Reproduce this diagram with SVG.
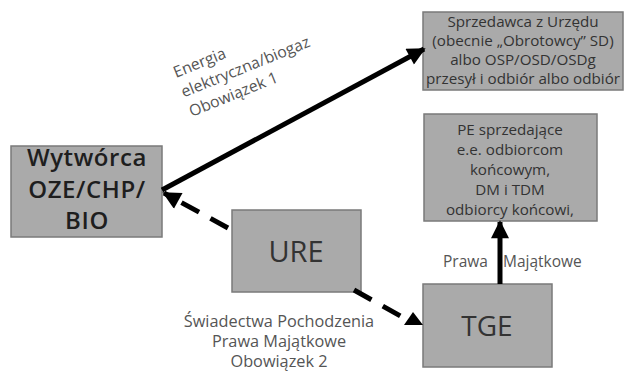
<svg xmlns="http://www.w3.org/2000/svg" width="624" height="372" viewBox="0 0 624 372">
<style>
.box{fill:#aaaaaa;stroke:#7a7a7a;stroke-width:1.5}
.t{font-family:"Open Sans","Noto Sans",sans-serif;fill:#333;text-anchor:middle}
.lbl{font-family:"Open Sans","Noto Sans",sans-serif;fill:#555}
.c{stroke:#000;stroke-width:5;fill:none}
.d{stroke-dasharray:20 13}
</style>
<defs>
<marker id="ah" viewBox="0 0 10 10" refX="9" refY="5" markerWidth="4.4" markerHeight="3.6" orient="auto" markerUnits="strokeWidth">
<path d="M0,0 L10,5 L0,10 Z" fill="#000"/>
</marker>
</defs>
<rect width="624" height="372" fill="#fff"/>
<g id="sprzedawca">
<rect class="box" x="423" y="12" width="200" height="78"/>
<text class="t" font-size="15.2"><tspan x="523" y="27">Sprzedawca z Urzędu</tspan><tspan x="523" y="46">(obecnie „Obrotowcy” SD)</tspan><tspan x="523" y="65">albo OSP/OSD/OSDg</tspan><tspan x="523" y="84">przesył i odbiór albo odbiór</tspan></text>
</g>
<g id="pe">
<rect class="box" x="424" y="114" width="173" height="107"/>
<text class="t" font-size="15.2"><tspan x="510" y="135">PE sprzedające</tspan><tspan x="510" y="155">e.e. odbiorcom</tspan><tspan x="510" y="175">końcowym,</tspan><tspan x="510" y="195">DM i TDM</tspan><tspan x="510" y="215">odbiorcy końcowi,</tspan></text>
</g>
<g id="wytworca">
<rect class="box" x="11" y="146" width="151" height="91"/>
<text class="t" font-size="24" font-weight="600" letter-spacing="0.6" style="fill:#1e1e1e"><tspan x="87" y="166">Wytwórca</tspan><tspan x="87" y="198">OZE/CHP/</tspan><tspan x="87" y="229">BIO</tspan></text>
</g>
<g id="ure">
<rect class="box" x="232" y="210" width="129" height="82"/>
<text class="t" font-size="29" x="296" y="262">URE</text>
</g>
<g id="tge">
<rect class="box" x="423" y="284" width="129" height="83"/>
<text class="t" font-size="28" x="487" y="336">TGE</text>
</g>
<g id="connectors">
<line class="c" x1="162" y1="190" x2="424" y2="49" marker-end="url(#ah)"/>
<line class="c d" x1="228" y1="228" x2="164" y2="193" marker-end="url(#ah)"/>
<line class="c d" x1="354" y1="290" x2="404" y2="318"/>
<polygon points="404,325 413,312 423,325" fill="#000"/>
<line class="c" x1="500" y1="284" x2="500" y2="222" marker-end="url(#ah)"/>
</g>
<g id="labels">
<text class="lbl" font-size="15.8" transform="translate(176,78) rotate(-22)"><tspan x="0" y="0">Energia</tspan><tspan x="0" y="21">elektryczna/biogaz</tspan><tspan x="0" y="42">Obowiązek 1</tspan></text>
<text class="lbl" font-size="16.3" text-anchor="middle"><tspan x="279" y="327">Świadectwa Pochodzenia</tspan><tspan x="279" y="347">Prawa Majątkowe</tspan><tspan x="279" y="367">Obowiązek 2</tspan></text>
<text class="lbl" font-size="15.5" x="443" y="267">Prawa</text>
<text class="lbl" font-size="15.5" x="503" y="267">Majątkowe</text>
</g>
</svg>
